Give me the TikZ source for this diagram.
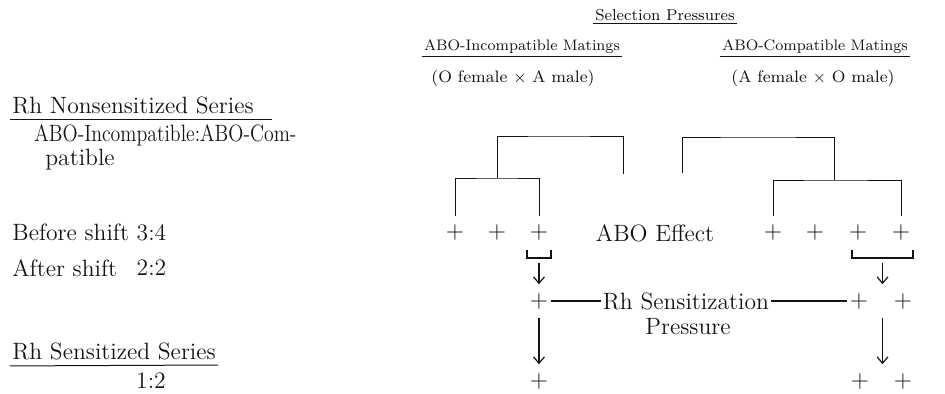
\documentclass[tikz,border=0pt]{standalone}
\usepackage{tikz}
\usepackage{graphicx}
\usetikzlibrary{arrows.meta,calc,positioning}
\definecolor{Ink}{RGB}{20,20,20}
\tikzset{
  rhtxt/.style={font=\fontsize{11.8}{13}\selectfont, text=Ink, inner sep=1pt},
  rhhead/.style={font=\fontsize{7.9}{10}\selectfont, text=Ink, inner sep=1pt},
  rhsub/.style={font=\fontsize{7.6}{10}\selectfont, text=Ink, inner sep=1pt},
  rhpar/.style={font=\fontsize{8.3}{10}\selectfont, text=Ink, inner sep=1pt},
  rhplus/.style={font=\fontsize{11.8}{13}\selectfont, text=Ink, inner sep=0pt, outer xsep=1.5pt, outer ysep=4.5pt},
  rhbrk/.style={line width=0.45pt, draw=Ink},
  rhbar/.style={line width=1.3pt, draw=Ink},
  rharr/.style={-{Straight Barb[length=3.2pt,width=5.5pt]}, line width=0.6pt, draw=Ink},
  rhline/.style={line width=0.55pt, draw=Ink},
  rhul/.style={line width=0.5pt, draw=Ink}
}

\begin{document}
\begin{tikzpicture}[x=0.5pt,y=-0.5pt]
  \useasboundingbox (0,0) rectangle (945,394);
  % headings
  \node[rhhead] (selp) at (665,15) {Selection Pressures};
  \draw[rhul] (selp.south west) -- (selp.south east);
  \node[rhsub] (inc) at (522,47) {ABO-Incompatible Matings};
  \draw[rhul] (inc.south west) -- (inc.south east);
  \node[rhsub] (comp) at (815,47) {ABO-Compatible Matings};
  \draw[rhul] (comp.south west) -- (comp.south east);
  \node[rhpar] (incx) at (513,78) {(O female $\times$ A male)};
  \node[rhpar] (compx) at (813,78) {(A female $\times$ O male)};
  % left column
  \node[rhtxt,anchor=west] (nons) at (10,105) {Rh Nonsensitized Series};
  \draw[rhul] (nons.south west) ++(0,4) -- ++(262,0);
  \node[rhtxt,anchor=west] (ratio) at (32,135) {\scalebox{0.84}[1]{ABO-Incompatible:ABO-Com-}};
  \node[rhtxt,anchor=west] (ratiob) at (43,160) {patible};
  \node[rhtxt,anchor=west] (before) at (10,232) {Before shift 3:4};
  \node[rhtxt,anchor=west] (after) at (10,268) {After shift};
  \node[rhtxt,anchor=east] (afterv) at (before.east |- after) {2:2};
  \node[rhtxt,anchor=west] (sensd) at (10,351) {Rh Sensitized Series};
  \draw[rhul] (sensd.south west) ++(0,4) -- (sensd.south east |- 0,365);
  \node[rhtxt] (sensv) at (151,381) {1:2};
  % plus signs
  \foreach \n/\x in {p1/455,p2/497,p3/539,q1/773,q2/815,q3/858,q4/901}
    \node[rhplus] (\n) at (\x,233) {$+$};
  \node[rhtxt] (abo) at (655,233) {ABO Effect};
  \node[rhplus] (r1) at (539,301) {$+$};
  \node[rhplus] (s1) at (859,301) {$+$};
  \node[rhplus] (s2) at (903,301) {$+$};
  \node[rhplus] (r2) at (539,381) {$+$};
  \node[rhplus] (t1) at (860,381) {$+$};
  \node[rhplus] (t2) at (903,381) {$+$};
  \node[rhtxt] (sens) at (686,301) {Rh Sensitization};
  \node[rhtxt] (press) at (688,327) {Pressure};
  % brackets
  \coordinate (llt) at (497,178);
  \coordinate (ult) at (558,136);
  \coordinate (ulr) at (623,174);
  \coordinate (lrt) at (834,180);
  \coordinate (urt) at (758,137);
  \coordinate (url) at (682,173);
  \draw[rhbrk] (p1.north) |- (llt) -| (p3.north);
  \draw[rhbrk] (llt) |- (ult) -| (ulr);
  \draw[rhbrk] (q1.north) |- (lrt) -| (q4.north);
  \draw[rhbrk] (url) |- (urt) -| (lrt);
  \draw[rhbar] ([xshift=-6pt]p3.south) -- ++(0,8) -| ([xshift=6pt]p3.south);
  \draw[rhbar] ([xshift=-3pt]q3.south) -- ++(0,8) -| ([xshift=6pt]q4.south);
  \coordinate (lb) at ($(p3.south)+(0,8)$);
  \coordinate (rb) at ($([xshift=-3pt]q3.south)!0.5!([xshift=6pt]q4.south)+(0,8)$);
  % arrows and sensitization line
  \draw[rharr,shorten <=2.5pt] (lb) -- (r1.north);
  \draw[rharr,shorten <=2.5pt] (rb) -- (rb |- s1.north);
  \draw[rharr] (r1.south) -- (r2.north);
  \draw[rharr] (rb |- s1.south) -- (rb |- t1.north);
  \draw[rhline] (r1.east) -- (sens.west);
  \draw[rhline] (sens.east) -- (s1.west);
\end{tikzpicture}
\end{document}
